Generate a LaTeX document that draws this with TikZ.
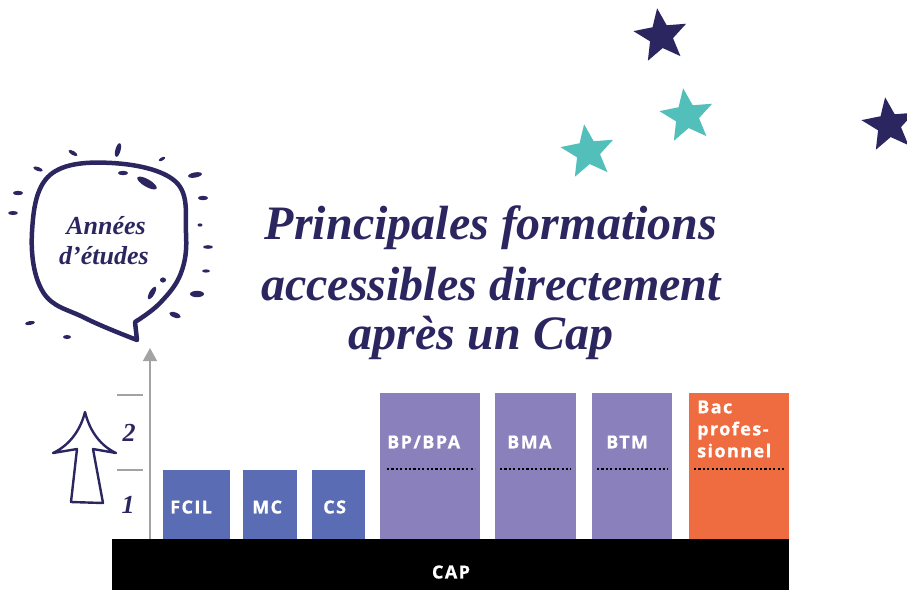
\documentclass[tikz,border=0pt]{standalone}
\usepackage{fontspec}
\setmainfont{Liberation Serif}
\newfontfamily\boxfont[LetterSpace=8,BoldFeatures={FakeBold=0.8}]{Open Sans}
\newfontfamily\scriptf{Liberation Serif}
\usetikzlibrary{shapes.geometric,arrows.meta}
\definecolor{navy}{HTML}{2B2660}
\definecolor{teal}{HTML}{52BFBA}
\definecolor{bluebox}{HTML}{5A6CB3}
\definecolor{purplebox}{HTML}{8A80BB}
\definecolor{orangebox}{HTML}{EE6C40}
\definecolor{axisgray}{HTML}{A3A3A3}
\tikzset{
  boxlabel/.style={text=white, font=\boxfont\bfseries\fontsize{18}{20}\selectfont, inner sep=0pt, anchor=west},
  dotline/.style={black, line width=2.8pt, dash pattern=on 2.2pt off 2.2pt},
  starshape/.style={star, star points=5, star point ratio=2.3, inner sep=0pt, minimum size=56pt, draw=none},
  titletext/.style={text=navy, font=\scriptf\bfseries\itshape\fontsize{48}{52}\selectfont, inner sep=0pt},
  yeartext/.style={text=navy, font=\scriptf\bfseries\itshape\fontsize{26}{28}\selectfont, inner sep=0pt},
}
\begin{document}
\begin{tikzpicture}[x=1pt,y=-1pt]
\useasboundingbox (0,0) rectangle (907,590);
% stars
\node[starshape, fill=navy, rotate=8] (s1) at (661,36) {};
\node[starshape, fill=teal, rotate=8] (s2) at (687,116) {};
\node[starshape, fill=teal, rotate=8] (s3) at (588,152) {};
\node[starshape, fill=navy, rotate=8] (s4) at (889,125) {};
% title
\node[titletext] (t1) at (491,228) {Principales formations};
\node[titletext] (t2) at (491,284) {accessibles directement};
\node[titletext] (t3) at (481,338) {après un Cap};
% speech bubble
\draw[navy, line width=4.5pt, line join=round] plot[smooth, tension=0.65] coordinates {(135,322) (160,303) (181,273) (186,233) (176,182) (112,163) (50,175) (32,232) (43,292) (85,318) (137,340)} -- cycle;
\node[yeartext] (y1) at (106,226) {Années};
\node[yeartext] (y2) at (104,256) {d’études};
% sparks
\foreach \x/\y/\a/\l/\w in {118/150/75/7/2.6, 73/153/-30/5/2, 38/169/-20/5/2, 162/159/30/3.5/1.6, 123/173/0/5/2.2, 147/183/-30/11/3.8, 195/175/10/7/2.6, 18/193/0/5/2.2, 203/198/0/5/2.2, 13/213/0/5/2, 200/225/0/2.5/1.6, 208/247/0/5/1.8, 206/271/0/4/1.6, 163/280/0/3/2.6, 152/293/60/7/2.6, 197/294/0/7/3.2, 175/315/-20/6/2.6, 30/323/10/5/2, 67/337/0/4/2}
  \fill[navy, rotate around={\a:(\x,\y)}] (\x,\y) ellipse [x radius=\l pt, y radius=\w pt];
% outline arrow
\draw[navy, line width=2.4pt, line join=round] (85,412) .. controls (80,432) and (68,446) .. (53,453) -- (77,449) -- (71,502) -- (103,503) -- (93,449) -- (116,453) .. controls (101,446) and (90,432) .. (85,412) -- cycle;
% axis
\coordinate (ax0) at (150,539);
\coordinate (ax1) at (150,348);
\draw[axisgray, line width=1.4pt, -{Triangle[width=14pt,length=13pt]}] (ax0) -- (ax1);
\coordinate (tk1a) at (117,395); \coordinate (tk1b) at (143,395);
\coordinate (tk2a) at (117,470); \coordinate (tk2b) at (143,470);
\draw[axisgray, line width=1.2pt] (tk1a) -- (tk1b);
\draw[axisgray, line width=1.2pt] (tk2a) -- (tk2b);
\node[yeartext] (n2) at (129,433) {2};
\node[yeartext] (n1) at (128,505) {1};
% CAP bar
\fill[black] (112,539) rectangle (789,590);
\node[text=white, font=\boxfont\bfseries\fontsize{18}{20}\selectfont, inner sep=0pt] (cap) at (451,572) {CAP};
% small boxes
\fill[bluebox] (163,470) rectangle (230,539);
\fill[bluebox] (243,470) rectangle (297,539);
\fill[bluebox] (312,470) rectangle (365,539);
\node[boxlabel] (fcil) at (170,507) {FCIL};
\node[boxlabel] (mc) at (252,507) {MC};
\node[boxlabel] (cs) at (323,507) {CS};
% tall boxes
\fill[purplebox] (380,393) rectangle (480,539);
\fill[purplebox] (495,393) rectangle (576,539);
\fill[purplebox] (592,393) rectangle (672,539);
\fill[orangebox] (689,393) rectangle (789,539);
\node[boxlabel] (bp) at (387,442) {BP/BPA};
\node[boxlabel] (bma) at (507,442) {BMA};
\node[boxlabel] (btm) at (606,442) {BTM};
\node[boxlabel, align=left, font=\boxfont\bfseries\fontsize{18}{22}\selectfont] (bac) at (697,429) {Bac\\profes-\\sionnel};
% dotted lines
\draw[dotline] (387,469) -- (475,469);
\draw[dotline] (500,469) -- (571,469);
\draw[dotline] (597,469) -- (668,469);
\draw[dotline] (694,469) -- (784,469);
\end{tikzpicture}
\end{document}
